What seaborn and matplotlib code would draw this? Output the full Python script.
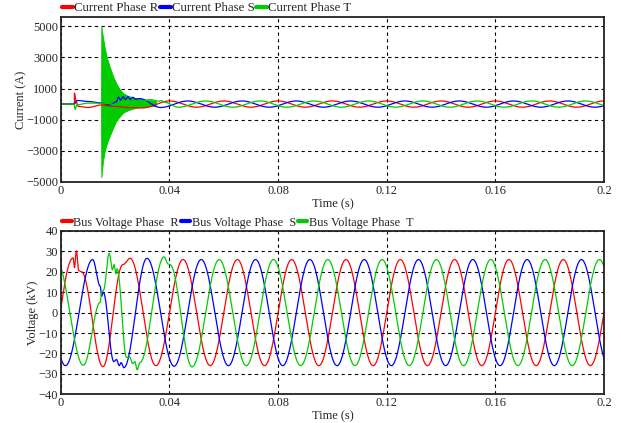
import numpy as np
import matplotlib
matplotlib.use("Agg")
import matplotlib.pyplot as plt
import seaborn as sns

# ---------------- data ----------------
# bus voltages (kV): turning points of each phase (time s, value kV)
vr_t = [-0.005, 0.0045, 0.0050, 0.0057, 0.0066, 0.0076, 0.0155, 0.0228, 0.0255, 0.035,
        0.045, 0.055, 0.065, 0.075, 0.085, 0.095, 0.105, 0.115, 0.125, 0.135,
        0.145, 0.155, 0.165, 0.175, 0.185, 0.195, 0.205]
vr_v = [-26, 26.8, 22, 30.2, 20.5, 20, -26.5, 23.5, 26.6, -26,
        26, -26, 26, -26, 26, -26, 26, -26, 26, -26,
        26, -26, 26, -26, 26, -26, 26]

vs_t = [-0.0083, 0.0017, 0.0117, 0.0145, 0.0150, 0.0156, 0.0195, 0.0205, 0.0215, 0.0222,
        0.0232, 0.0317, 0.0417, 0.0517, 0.0617, 0.0717, 0.0817, 0.0917, 0.1017, 0.1117,
        0.1217, 0.1317, 0.1417, 0.1517, 0.1617, 0.1717, 0.1817, 0.1917, 0.2017]
vs_v = [26, -26, 26, 13, 8, 10, -24, -23, -26, -24.5,
        -27, 26.6, -26.3, 26, -26, 26, -26, 26, -26, 26,
        -26, 26, -26, 26, -26, 26, -26, 26, -26]

vt_t = [-0.0017, 0.0083, 0.0145, 0.0150, 0.0157, 0.0178, 0.0190, 0.0196, 0.0203, 0.0207,
        0.0242, 0.0252, 0.0265, 0.0272, 0.0281, 0.0291, 0.0380, 0.0395, 0.0402, 0.0483,
        0.0583, 0.0683, 0.0783, 0.0883, 0.0983, 0.1083, 0.1183, 0.1283, 0.1383, 0.1483,
        0.1583, 0.1683, 0.1783, 0.1883, 0.1983, 0.2083]
vt_v = [26, -25.8, 5, 10, 11, 29, 21, 23.5, 19, 21.5,
        -22, -21.5, -25, -24, -28, -24.5, 27.3, 23.8, 23.5, -26.6,
        26, -26, 26, -26, 26, -26, 26, -26, 26, -26,
        26, -26, 26, -26, 26, -26]

# phase currents (A): turning points
ir_t = [0, 0.00495, 0.0050, 0.0056, 0.0065, 0.0100, 0.0148, 0.0200, 0.0250, 0.0300,
        0.040, 0.050, 0.060, 0.070, 0.080, 0.090, 0.100, 0.110, 0.120, 0.130,
        0.140, 0.150, 0.160, 0.170, 0.180, 0.190, 0.200]
ir_v = [0, 0, 700, 150, -150, -220, -60, -150, -230, -250,
        200, -200, 200, -200, 200, -200, 200, -200, 200, -200,
        200, -200, 200, -200, 200, -200, 200]

is_t = [0, 0.0049, 0.0060, 0.0100, 0.0148, 0.0180, 0.0205, 0.0212, 0.0220, 0.0229,
        0.0238, 0.0247, 0.0256, 0.0265, 0.0275, 0.0290, 0.0367, 0.0467, 0.0567, 0.0667,
        0.0767, 0.0867, 0.0967, 0.1067, 0.1167, 0.1267, 0.1367, 0.1467, 0.1567, 0.1667,
        0.1767, 0.1867, 0.1967, 0.2067]
is_v = [0, 0, 230, 170, 80, -50, 150, 450, 260, 480,
        290, 470, 300, 440, 320, 350, -220, 200, -200, 200,
        -200, 200, -200, 200, -200, 200, -200, 200, -200, 200,
        -200, 200, -200, 200]

it_t = [0, 0.0049, 0.0052, 0.0060, 0.0100, 0.0147, 0.0233, 0.0333, 0.0360, 0.0370,
        0.0380, 0.0433, 0.0533, 0.0633, 0.0733, 0.0833, 0.0933, 0.1033, 0.1133, 0.1233,
        0.1333, 0.1433, 0.1533, 0.1633, 0.1733, 0.1833, 0.1933, 0.2033]
it_v = [0, 0, -330, -40, 60, 60, -100, 280, 180, 230,
        120, -200, 200, -200, 200, -200, 200, -200, 200, -200,
        200, -200, 200, -200, 200, -200, 200, -200]

# envelope of the phase T current burst
burst_t = [0.0148, 0.0149, 0.0155, 0.0162, 0.0170, 0.0180, 0.0192, 0.0205, 0.0217, 0.0230,
           0.0245, 0.0265, 0.0290, 0.0320, 0.0350]
burst_hi = [0, 5000, 4300, 3600, 2950, 2400, 1800, 1300, 950, 700,
            550, 420, 330, 280, 200]
burst_lo = [0, -4700, -3700, -3000, -2500, -2050, -1550, -1050, -800, -550,
            -420, -300, -200, -150, -100]

RED, BLUE, GREEN = "#ff0000", "#0000ff", "#00cc00"


def trace(times, values, n=30):
    # smooth half-cosine arc between consecutive turning points
    tt, vv = [], []
    for i in range(len(times) - 1):
        s = np.linspace(0, 1, n, endpoint=False)
        tt.append(times[i] + (times[i + 1] - times[i]) * s)
        vv.append(values[i] + (values[i + 1] - values[i]) * (1 - np.cos(np.pi * s)) / 2)
    tt.append([times[-1]])
    vv.append([values[-1]])
    return np.concatenate(tt), np.concatenate(vv)


sns.set_style("white")
plt.rcParams['font.family'] = ['Liberation Serif', 'DejaVu Serif']
plt.rcParams['axes.unicode_minus'] = True

fig = plt.figure(figsize=(6.21, 4.23), dpi=100)
ax1 = fig.add_axes([0.098, 0.570, 0.8746, 0.390])
ax2 = fig.add_axes([0.098, 0.068, 0.8746, 0.386])

# ---------------- currents ----------------
ax1.fill_between(burst_t, burst_lo, burst_hi, color=GREEN, lw=0.6, zorder=1)
for tl, vl, c, lab in [(ir_t, ir_v, RED, "Current Phase R"),
                       (is_t, is_v, BLUE, "Current Phase S"),
                       (it_t, it_v, GREEN, "Current Phase T")]:
    x, y = trace(tl, vl)
    sns.lineplot(x=x, y=y, ax=ax1, color=c, lw=0.9, label=lab,
                 sort=False, estimator=None, zorder=2)

ax1.set_xlim(0, 0.2)
ax1.set_ylim(-5000, 5600)
ax1.set_yticks([5000, 3000, 1000, -1000, -3000, -5000])
ax1.set_ylabel("Current (A)", fontsize=9, labelpad=-1)

# ---------------- voltages ----------------
for tl, vl, c, lab in [(vr_t, vr_v, RED, "Bus Voltage Phase  R"),
                       (vs_t, vs_v, BLUE, "Bus Voltage Phase  S"),
                       (vt_t, vt_v, GREEN, "Bus Voltage Phase  T")]:
    x, y = trace(tl, vl)
    sns.lineplot(x=x, y=y, ax=ax2, color=c, lw=0.9, label=lab,
                 sort=False, estimator=None, zorder=2)

ax2.set_xlim(0, 0.2)
ax2.set_ylim(-40, 40)
ax2.set_yticks([40, 30, 20, 10, 0, -10, -20, -30, -40])
ax2.set_ylabel("Voltage (kV)", fontsize=9, labelpad=0)

for ax, fs in ((ax1, 9.3), (ax2, 8.8)):
    ax.set_xticks([0, 0.04, 0.08, 0.12, 0.16, 0.2])
    ax.set_xticklabels(["0", "0.04", "0.08", "0.12", "0.16", "0.2"])
    ax.set_xlabel("Time (s)", fontsize=9, labelpad=1)
    ax.grid(True, color="black", ls=(0, (3, 3)), lw=0.8)
    ax.tick_params(labelsize=9, length=0, pad=2)
    for sp in ax.spines.values():
        sp.set_color("#222222")
        sp.set_linewidth(1.3)
    leg = ax.legend(loc="lower left", bbox_to_anchor=(-0.002, 1.0), ncol=3,
                    frameon=False, fontsize=fs, handlelength=0.8,
                    handletextpad=0.1, columnspacing=0.15, borderpad=0.1,
                    borderaxespad=0.1)
    for h in leg.legend_handles:
        h.set_linewidth(3)

fig.savefig("out.png", dpi=100)
